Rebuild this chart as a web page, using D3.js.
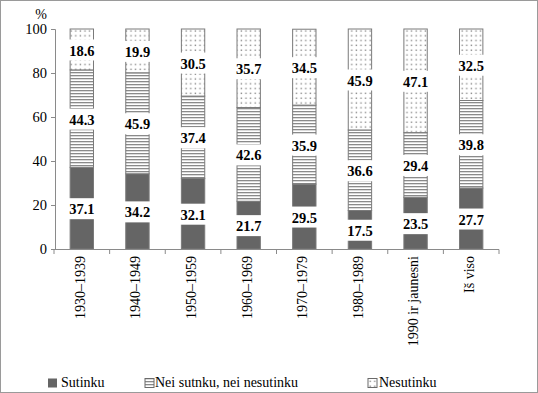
<!DOCTYPE html>
<html>
<head>
<meta charset="utf-8">
<script src="https://cdn.jsdelivr.net/npm/d3@7.9.0/dist/d3.min.js"></script>
<style>
  body { margin: 0; background: #fff; }
  svg text { font-family: "Liberation Serif", "Times New Roman", serif; }
</style>
</head>
<body>
<svg id="chart" width="538" height="393"></svg>
<script>
const categories = ['1930–1939', '1940–1949', '1950–1959', '1960–1969', '1970–1979', '1980–1989', '1990 ir jaunesni', 'Iš viso'];
const sutinku = [37.1, 34.2, 32.1, 21.7, 29.5, 17.5, 23.5, 27.7];
const neither = [44.3, 45.9, 37.4, 42.6, 35.9, 36.6, 29.4, 39.8];
const nesutinku = [18.6, 19.9, 30.5, 35.7, 34.5, 45.9, 47.1, 32.5];
const seriesNames = ['Sutinku', 'Nei sutnku, nei nesutinku', 'Nesutinku'];
const yTicks = [0, 20, 40, 60, 80, 100];

const svg = d3.select('#chart');
const W = 538, H = 393;
const FONT = '"Liberation Serif", "Times New Roman", serif';

// frame around the picture
svg.append('rect')
  .attr('x', 0.5).attr('y', 0.5)
  .attr('width', W - 1).attr('height', H - 1)
  .attr('fill', 'none').attr('stroke', '#9a9a9a');

// fill patterns
const defs = svg.append('defs');
let stripes = defs.append('pattern')
  .attr('id', 'stripes').attr('patternUnits', 'userSpaceOnUse')
  .attr('width', 6).attr('height', 3);
stripes.append('rect').attr('width', 6).attr('height', 3).attr('fill', '#fff');
stripes.append('rect').attr('y', 0).attr('width', 6).attr('height', 1.3).attr('fill', '#8a8a8a');

let dots = defs.append('pattern')
  .attr('id', 'dots').attr('patternUnits', 'userSpaceOnUse')
  .attr('width', 4.6).attr('height', 4.8);
dots.append('rect').attr('width', 4.6).attr('height', 4.8).attr('fill', '#fff');
dots.append('rect').attr('x', 1.5).attr('y', 1.5).attr('width', 1.4).attr('height', 1.4).attr('fill', '#8c8c8c');

const fills = ['#656565', 'url(#stripes)', 'url(#dots)'];

const x = d3.scaleBand().domain(categories).range([54, 499]).paddingInner(0.58).paddingOuter(0.29);
const y = d3.scaleLinear().domain([0, 100]).range([249, 29]);

// stacked data
const rows = categories.map((c, i) => ({ cat: c, s0: sutinku[i], s1: neither[i], s2: nesutinku[i] }));
const stack = d3.stack().keys(['s0', 's1', 's2'])(rows);

stack.forEach((layer, k) => {
  svg.append('g').selectAll('rect')
    .data(layer)
    .join('rect')
    .attr('x', d => x(d.data.cat))
    .attr('y', d => y(d[1]))
    .attr('width', x.bandwidth())
    .attr('height', d => y(d[0]) - y(d[1]))
    .attr('fill', fills[k])
    .attr('stroke', '#7a7a7a')
    .attr('stroke-width', 1);
});

// value labels with white boxes in the middle of each segment
stack.forEach((layer, k) => {
  let g = svg.append('g');
  layer.forEach(d => {
    let cx = x(d.data.cat) + x.bandwidth() / 2;
    let cy = y((d[0] + d[1]) / 2);
    g.append('rect')
      .attr('x', cx - 18).attr('y', cy - 10)
      .attr('width', 36).attr('height', 21)
      .attr('fill', '#fff');
    g.append('text')
      .attr('x', cx).attr('y', cy + 1)
      .attr('dy', '0.35em')
      .attr('text-anchor', 'middle')
      .style('font-family', FONT)
      .attr('font-size', 14.5)
      .attr('font-weight', 'bold')
      .text((d[1] - d[0]).toFixed(1));
  });
});

// y axis
let yAxis = svg.append('g')
  .attr('transform', 'translate(55,0)')
  .call(d3.axisLeft(y).tickValues(yTicks).tickSize(4).tickPadding(4));
yAxis.selectAll('path, line').attr('stroke', '#8a8a8a');
yAxis.selectAll('text').attr('font-size', 14.5).style('font-family', FONT).attr('fill', '#000');

svg.append('text')
  .attr('x', 41).attr('y', 19)
  .attr('text-anchor', 'middle')
  .style('font-family', FONT)
  .attr('font-size', 14)
  .text('%');

// x axis with ticks between categories
const step = x.step();
let xAxisG = svg.append('g');
xAxisG.append('line')
  .attr('x1', 54).attr('x2', 499)
  .attr('y1', 249.5).attr('y2', 249.5)
  .attr('stroke', '#8a8a8a');
xAxisG.selectAll('line.tick')
  .data(d3.range(categories.length + 1))
  .join('line')
  .attr('class', 'tick')
  .attr('x1', i => 54 + i * step).attr('x2', i => 54 + i * step)
  .attr('y1', 249.5).attr('y2', 254)
  .attr('stroke', '#8a8a8a');
xAxisG.selectAll('text')
  .data(categories)
  .join('text')
  .attr('transform', d => `translate(${x(d) + x.bandwidth() / 2},256) rotate(-90)`)
  .attr('text-anchor', 'end')
  .attr('dy', '0.2em')
  .style('font-family', FONT)
  .attr('font-size', 14)
  .text(d => d);

// legend
const legendItems = [
  { label: seriesNames[0], fill: fills[0], sx: 48, tx: 61 },
  { label: seriesNames[1], fill: fills[1], sx: 145, tx: 155 },
  { label: seriesNames[2], fill: fills[2], sx: 368, tx: 379 }
];
let legend = svg.append('g');
legendItems.forEach((it, i) => {
  legend.append('rect')
    .attr('x', it.sx).attr('y', 378.5)
    .attr('width', 9).attr('height', 9)
    .attr('fill', it.fill)
    .attr('stroke', i === 0 ? 'none' : '#6a6a6a');
  legend.append('text')
    .attr('x', it.tx).attr('y', 387)
    .style('font-family', FONT)
    .attr('font-size', 14)
    .text(it.label);
});
</script>
</body>
</html>
